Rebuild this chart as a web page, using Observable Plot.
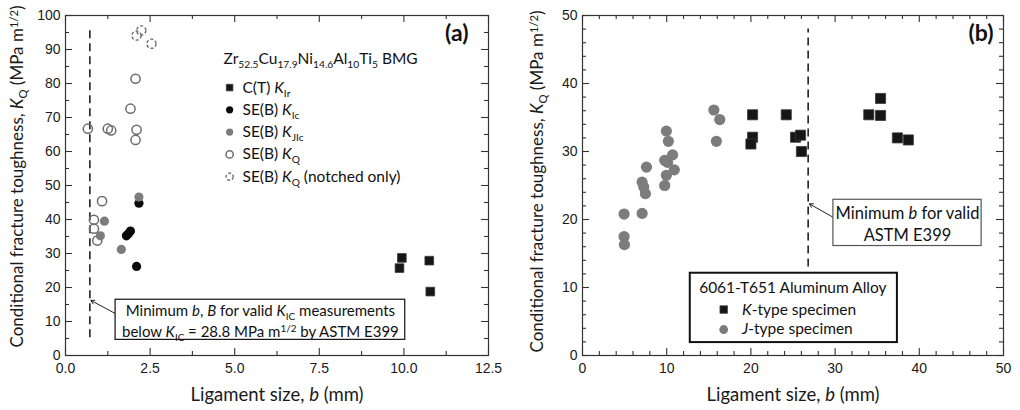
<!DOCTYPE html>
<html><head><meta charset="utf-8">
<script src="https://cdn.jsdelivr.net/npm/d3@7"></script>
<script src="https://cdn.jsdelivr.net/npm/@observablehq/plot@0.6"></script>
<style>
html,body{margin:0;padding:0;background:#fff;}
#wrap{display:flex;width:1020px;height:410px;overflow:hidden;}
</style></head><body><div id="wrap"></div>
<script>
// ---------- Panel (a): Zr-based BMG ----------
const aCT_b = [9.94, 9.87, 10.75, 10.78];
const aCT_K = [28.7, 25.7, 27.9, 18.8];
const aKIc_b = [2.17, 1.80, 1.86, 1.92, 2.10];
const aKIc_K = [44.8, 35.2, 35.8, 36.6, 26.2];
const aKJIc_b = [2.17, 1.15, 1.03, 1.65];
const aKJIc_K = [46.6, 39.5, 35.2, 31.2];
const aKQ_b = [0.66, 1.25, 1.35, 1.92, 2.07, 2.10, 2.07, 1.08, 0.84, 0.84, 0.94];
const aKQ_K = [66.7, 66.7, 66.2, 72.6, 81.4, 66.4, 63.4, 45.4, 39.9, 37.3, 33.8];
const aKQn_b = [2.10, 2.24, 2.54];
const aKQn_K = [94.1, 95.6, 91.7];
const aMinB = 0.72;
const aXTicks = [0, 2.5, 5, 7.5, 10, 12.5];
const aXMinor = [1.25, 3.75, 6.25, 8.75, 11.25];
const aYTicks = [0, 10, 20, 30, 40, 50, 60, 70, 80, 90, 100];
const aYMinor = [5, 15, 25, 35, 45, 55, 65, 75, 85, 95];
const aLegendTitle = "Zr_{52.5}Cu_{17.9}Ni_{14.6}Al_{10}Ti_{5} BMG";
const aLegendLabels = ["C(T) *K*_{Ir}", "SE(B) *K*_{Ic}", "SE(B) *K*_{JIc}", "SE(B) *K*_{Q}", "SE(B) *K*_{Q} (notched only)"];
const aNote = "Minimum *b*, *B* for valid *K*_{IC} measurements\nbelow *K*_{IC} = 28.8 MPa m^{1/2} by ASTM E399";

// ---------- Panel (b): 6061-T651 aluminum ----------
const bK_b = [20.2, 20.2, 20.0, 24.2, 25.3, 25.9, 26.0, 34.0, 35.4, 35.4, 37.4, 38.7];
const bK_K = [35.4, 32.1, 31.1, 35.4, 32.1, 32.4, 30.0, 35.4, 37.8, 35.3, 32.0, 31.7];
const bJ_b = [4.94, 4.94, 4.98, 7.08, 7.27, 7.47, 7.08, 7.6, 9.96, 10.2, 9.76, 10.1, 10.7, 10.9, 9.96, 9.76, 15.6, 16.3, 15.9];
const bJ_K = [20.8, 17.5, 16.3, 25.5, 24.8, 23.8, 20.9, 27.7, 33.0, 31.5, 28.7, 28.4, 29.5, 27.3, 26.5, 25.0, 36.1, 34.7, 31.5];
const bMinB = 26.8;
const bXTicks = [0, 10, 20, 30, 40, 50];
const bXMinor = [2,4,6,8,12,14,16,18,22,24,26,28,32,34,36,38,42,44,46,48];
const bYTicks = [0, 10, 20, 30, 40, 50];
const bYMinor = [2,4,6,8,12,14,16,18,22,24,26,28,32,34,36,38,42,44,46,48];
const bLegendTitle = "6061-T651 Aluminum Alloy";
const bLegendLabels = ["*K*-type specimen", "*J*-type specimen"];
const bNote = "Minimum *b* for valid\nASTM E399";

const xLabel = "Ligament size, *b* (mm)";
const yLabel = "Conditional fracture toughness, *K*_{Q} (MPa m^{1/2})";

// ---------- styles ----------
const LABEL_FONT = "Lato, 'Open Sans', sans-serif";
const TICK_FONT = "'Liberation Sans', Arial, sans-serif";
const sq = {symbol: "square", fill: "#161616", stroke: "#3a3a3a", strokeWidth: 0.8};
const blk = {fill: "#0b0b0b"};
const gry = {fill: "#7c7c7c"};
const hol = {fill: "none", stroke: "#6c6c6c", strokeWidth: 1.5};
const dsh = {fill: "none", stroke: "#6e6e6e", strokeWidth: 1.4, strokeDasharray: "3,2"};

const zip = (xs, ys) => xs.map((x, i) => ({x, y: ys[i]}));

function frameTicks(xMaj, xMin, yMaj, yMin, fw, fh) {
  const s = {stroke: "#333", strokeWidth: 1.1};
  const M = 7, m = 4;
  return [
    Plot.tickX(xMaj, {x: d => d, insetTop: fh - M, ...s}),
    Plot.tickX(xMaj, {x: d => d, insetBottom: fh - M, ...s}),
    Plot.tickX(xMin, {x: d => d, insetTop: fh - m, ...s}),
    Plot.tickX(xMin, {x: d => d, insetBottom: fh - m, ...s}),
    Plot.tickY(yMaj, {y: d => d, insetRight: fw - M, ...s}),
    Plot.tickY(yMaj, {y: d => d, insetLeft: fw - M, ...s}),
    Plot.tickY(yMin, {y: d => d, insetRight: fw - m, ...s}),
    Plot.tickY(yMin, {y: d => d, insetLeft: fw - m, ...s})
  ];
}

function axes(xt, yt, xfmt, dxY, dyY) {
  return [
    Plot.axisX({ticks: xt, tickSize: 0, tickPadding: 8, tickFormat: xfmt, label: null, fontSize: 14, fontFamily: TICK_FONT}),
    Plot.axisY({ticks: yt, tickSize: 0, tickPadding: 5, label: null, fontSize: 14, fontFamily: TICK_FONT}),
    Plot.text([xLabel], {frameAnchor: "bottom", lineAnchor: "middle", textAnchor: "middle", dy: 40, fontSize: 18.5, fontFamily: LABEL_FONT}),
    Plot.text([yLabel], {frameAnchor: "left", lineAnchor: "middle", textAnchor: "middle", rotate: -90, dx: dxY, dy: dyY, fontSize: 17, fontFamily: LABEL_FONT})
  ];
}

// ---------- Panel (a) ----------
const aFW = 510 - 65 - 22, aFH = 410 - 15 - 55;
const legAy = i => 78.8 - i * 6.55;
const legStyles = [sq, blk, gry, hol, dsh];
const plotA = Plot.plot({
  width: 510, height: 410,
  marginLeft: 65, marginRight: 22, marginTop: 15, marginBottom: 55,
  x: {domain: [0, 12.5]}, y: {domain: [0, 100]},
  style: {background: "white", color: "#1a1a1a", fontFamily: LABEL_FONT, overflow: "visible"},
  marks: [
    Plot.ruleX([aMinB], {y1: 5.2, y2: 95.8, stroke: "#222", strokeWidth: 1.6, strokeDasharray: "8,5"}),
    Plot.arrow([0], {x1: 1.48, y1: 12.3, x2: 0.75, y2: 16.2, stroke: "#222", strokeWidth: 1, headLength: 6}),
    Plot.rect([0], {x1: 1.48, x2: 10.04, y1: 4.6, y2: 16.4, fill: "white", stroke: "#111", strokeWidth: 1.2}),
    Plot.text([aNote], {x: 5.76, y: 10.5, fontSize: 15, lineHeight: 1.42, fontFamily: LABEL_FONT, fill: "#111"}),
    Plot.dot(zip(aKQ_b, aKQ_K), {x: "x", y: "y", r: 4.6, ...hol}),
    Plot.dot(zip(aKQn_b, aKQn_K), {x: "x", y: "y", r: 4.6, ...dsh}),
    Plot.dot(zip(aKIc_b, aKIc_K), {x: "x", y: "y", r: 4.6, ...blk}),
    Plot.dot(zip(aKJIc_b, aKJIc_K), {x: "x", y: "y", r: 4.6, ...gry}),
    Plot.dot(zip(aCT_b, aCT_K), {x: "x", y: "y", r: 4.9, ...sq}),
    Plot.text([aLegendTitle], {x: 4.67, y: 87.3, textAnchor: "start", fontSize: 15.5, fontFamily: LABEL_FONT, fill: "#111"}),
    ...aLegendLabels.map((lab, i) => Plot.dot([lab], {x: 4.85, y: legAy(i), r: i === 0 ? 3.7 : 3.6, ...legStyles[i]})),
    Plot.text(aLegendLabels, {x: 5.23, y: (d, i) => legAy(i), textAnchor: "start", fontSize: 15.5, fontFamily: LABEL_FONT, fill: "#111"}),
    Plot.text(["(a)"], {frameAnchor: "top-right", lineAnchor: "middle", textAnchor: "end", dx: -20, dy: 18, fontSize: 23, fontWeight: "bold", fontFamily: LABEL_FONT, fill: "#111"}),
    ...frameTicks(aXTicks, aXMinor, aYTicks, aYMinor, aFW, aFH),
    Plot.frame({stroke: "#333", strokeWidth: 1.2}),
    ...axes(aXTicks, aYTicks, d3.format(".1f"), -48, -9)
  ]
});

// ---------- Panel (b) ----------
const bFW = 510 - 72 - 17, bFH = 410 - 15 - 55;
const plotB = Plot.plot({
  width: 510, height: 410,
  marginLeft: 72, marginRight: 17, marginTop: 15, marginBottom: 55,
  x: {domain: [0, 50]}, y: {domain: [0, 50]},
  style: {background: "white", color: "#1a1a1a", fontFamily: LABEL_FONT, overflow: "visible"},
  marks: [
    Plot.ruleX([bMinB], {y1: 13.0, y2: 48.0, stroke: "#222", strokeWidth: 1.6, strokeDasharray: "8,5"}),
    Plot.arrow([0], {x1: 29.8, y1: 20.3, x2: 26.95, y2: 22.3, stroke: "#222", strokeWidth: 1, headLength: 6}),
    Plot.rect([0], {x1: 29.8, x2: 47.4, y1: 16.1, y2: 22.9, fill: "white", stroke: "#555", strokeWidth: 1.2}),
    Plot.text([bNote], {x: 38.6, y: 19.45, fontSize: 16.5, lineHeight: 1.3, fontFamily: LABEL_FONT, fill: "#111"}),
    Plot.dot(zip(bJ_b, bJ_K), {x: "x", y: "y", r: 5.6, ...gry}),
    Plot.dot(zip(bK_b, bK_K), {x: "x", y: "y", r: 5.7, ...sq}),
    Plot.rect([0], {x1: 12.8, x2: 37.4, y1: 1.9, y2: 12.1, fill: "white", stroke: "#111", strokeWidth: 2}),
    Plot.text([bLegendTitle], {x: 24.98, y: 9.85, fontSize: 15.5, fontFamily: LABEL_FONT, fill: "#111"}),
    Plot.dot([bLegendLabels[0]], {x: 16.77, y: 6.76, r: 4.2, ...sq}),
    Plot.dot([bLegendLabels[1]], {x: 16.77, y: 3.82, r: 4.4, ...gry}),
    Plot.text(bLegendLabels, {x: 18.95, y: (d, i) => [6.76, 3.82][i], textAnchor: "start", fontSize: 15.5, fontFamily: LABEL_FONT, fill: "#111"}),
    Plot.text(["(b)"], {frameAnchor: "top-right", lineAnchor: "middle", textAnchor: "end", dx: -10, dy: 18, fontSize: 23, fontWeight: "bold", fontFamily: LABEL_FONT, fill: "#111"}),
    ...frameTicks(bXTicks, bXMinor, bYTicks, bYMinor, bFW, bFH),
    Plot.frame({stroke: "#333", strokeWidth: 1.2}),
    ...axes(bXTicks, bYTicks, d3.format("d"), -45, -4)
  ]
});

const wrap = document.getElementById("wrap");
wrap.appendChild(plotA);
wrap.appendChild(plotB);

// ---------- rich text: *italic*, _{sub}, ^{sup} ----------
const NS = "http://www.w3.org/2000/svg";
function parseRich(el) {
  const s = el.textContent;
  if (!/[*]|_\{|\^\{/.test(s)) return;
  const fs = parseFloat(getComputedStyle(el).fontSize) || 14;
  while (el.firstChild) el.removeChild(el.firstChild);
  let buf = "", italic = false, i = 0;
  const add = (txt, o = {}) => {
    if (!txt) return;
    const t = document.createElementNS(NS, "tspan");
    t.textContent = txt;
    if (o.italic) t.setAttribute("font-style", "italic");
    if (o.shift != null) {
      t.setAttribute("baseline-shift", o.shift + "px");
      t.setAttribute("font-size", (fs * 0.66).toFixed(2) + "px");
    }
    el.appendChild(t);
  };
  while (i < s.length) {
    const c = s[i];
    if (c === "*") { add(buf, {italic}); buf = ""; italic = !italic; i++; }
    else if ((c === "_" || c === "^") && s[i + 1] === "{") {
      add(buf, {italic}); buf = "";
      const j = s.indexOf("}", i);
      add(s.slice(i + 2, j), {shift: c === "_" ? -0.25 * fs : 0.32 * fs});
      i = j + 1;
    } else { buf += c; i++; }
  }
  add(buf, {italic});
}
document.querySelectorAll("svg text").forEach(t => {
  const lines = t.querySelectorAll(":scope > tspan");
  if (lines.length) lines.forEach(parseRich); else parseRich(t);
});
</script></body></html>
